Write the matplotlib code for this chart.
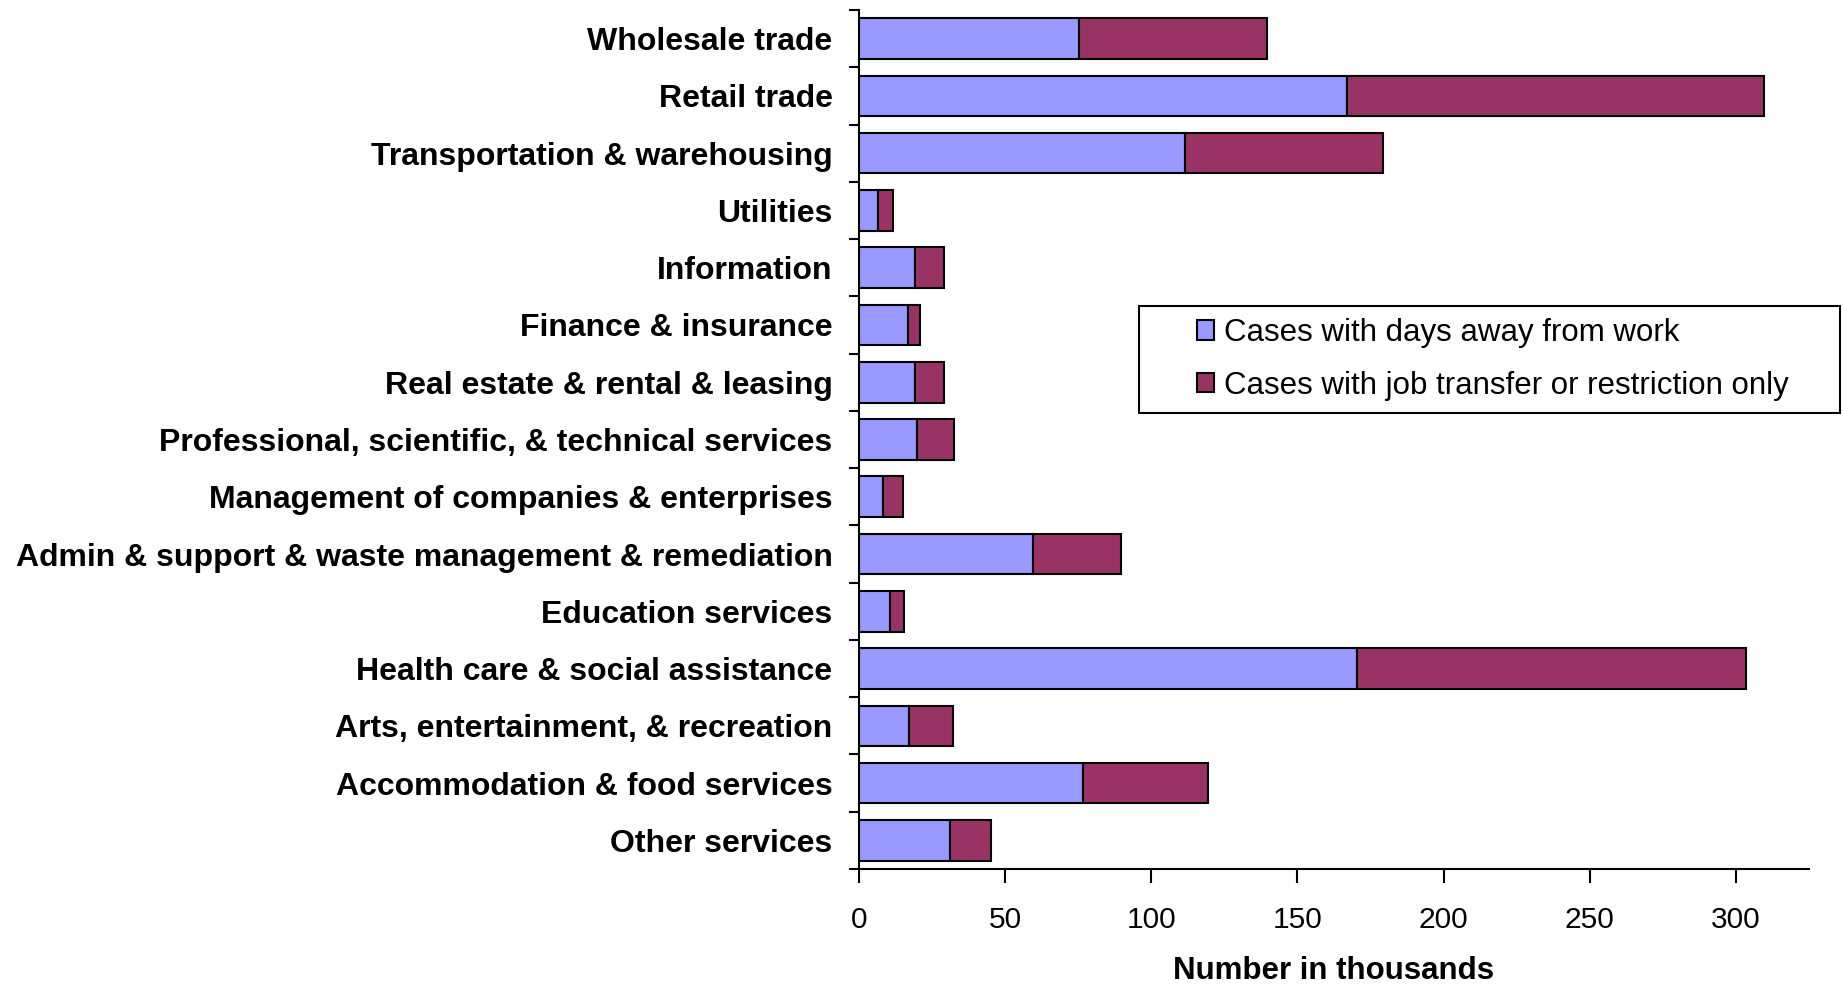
import matplotlib
matplotlib.use("Agg")
import matplotlib.pyplot as plt
from matplotlib.patches import Rectangle
import numpy as np

categories = [
    "Wholesale trade",
    "Retail trade",
    "Transportation & warehousing",
    "Utilities",
    "Information",
    "Finance & insurance",
    "Real estate & rental & leasing",
    "Professional, scientific, & technical services",
    "Management of companies & enterprises",
    "Admin & support & waste management & remediation",
    "Education services",
    "Health care & social assistance",
    "Arts, entertainment, & recreation",
    "Accommodation & food services",
    "Other services",
]
days_away = [75.2, 166.8, 111.5, 6.6, 19.1, 16.6, 19.1, 20.0, 8.2, 59.6, 10.7, 170.4, 17.0, 76.6, 31.2]
totals = [139.5, 309.5, 179.2, 11.6, 29.1, 20.9, 29.2, 32.6, 15.2, 89.5, 15.5, 303.4, 32.1, 119.5, 45.2]
restriction = [t - d for t, d in zip(totals, days_away)]

series_labels = ["Cases with days away from work", "Cases with job transfer or restriction only"]
xticks = [0, 50, 100, 150, 200, 250, 300]
xlabel = "Number in thousands"

FONT = "Liberation Sans"
W, H = 1843, 984
AX_TOP, AX_BOT = 10, 869
fig = plt.figure(figsize=(W / 100, H / 100), dpi=100)
ax = fig.add_axes([859 / W, 1 - AX_BOT / H, (1809 - 859) / W, (AX_BOT - AX_TOP) / H])

y = np.arange(len(categories))
lw = 1.5
b1 = ax.barh(y, days_away, height=0.71, color="#9999FF", edgecolor="black", linewidth=lw,
             label=series_labels[0], zorder=2)
b2 = ax.barh(y, restriction, left=days_away, height=0.71, color="#993366", edgecolor="black",
             linewidth=lw, label=series_labels[1], zorder=2)

ax.set_ylim(len(categories) - 0.5, -0.5)
ax.set_xlim(0, 325)

ax.set_yticks(y)
ax.set_yticklabels(categories, fontsize=23, fontweight="bold", family=FONT)
ax.set_yticks(np.arange(-0.5, len(categories), 1.0), minor=True)
ax.tick_params(axis="y", which="major", length=0, pad=19)
ax.tick_params(axis="y", which="minor", length=7, width=1.5, direction="out")

ax.set_xticks(xticks)
ax.set_xticklabels([str(v) for v in xticks], fontsize=21.5, family=FONT)
ax.tick_params(axis="x", which="major", length=10, width=1.5, direction="out", pad=17)

for s in ["top", "right"]:
    ax.spines[s].set_visible(False)
for s in ["left", "bottom"]:
    ax.spines[s].set_linewidth(1.5)

ax.set_xlabel(xlabel, fontsize=22.5, fontweight="bold", family=FONT)
ax.xaxis.set_label_coords(0.5, -(979 - AX_BOT) / (AX_BOT - AX_TOP))
ax.xaxis.label.set_va("baseline")

# legend frame (drawn separately to match the original padding)
fig.add_artist(Rectangle((1139 / W, 1 - 413 / H), (1840 - 1139) / W, (413 - 306) / H,
                         transform=fig.transFigure, fill=False, edgecolor="black",
                         linewidth=1.5, zorder=5))
leg = fig.legend(handles=[b1, b2], loc="upper left",
                 bbox_to_anchor=(1197 / W, 1 - 318 / H),
                 bbox_transform=fig.transFigure,
                 frameon=False,
                 prop={"family": FONT, "size": 22.5},
                 handlelength=0.55, handleheight=0.6, handletextpad=0.3,
                 borderpad=0, labelspacing=0.72, borderaxespad=0)
for h in leg.legend_handles:
    h.set_linewidth(1.5)

fig.savefig("out.png", dpi=100, facecolor="white")
